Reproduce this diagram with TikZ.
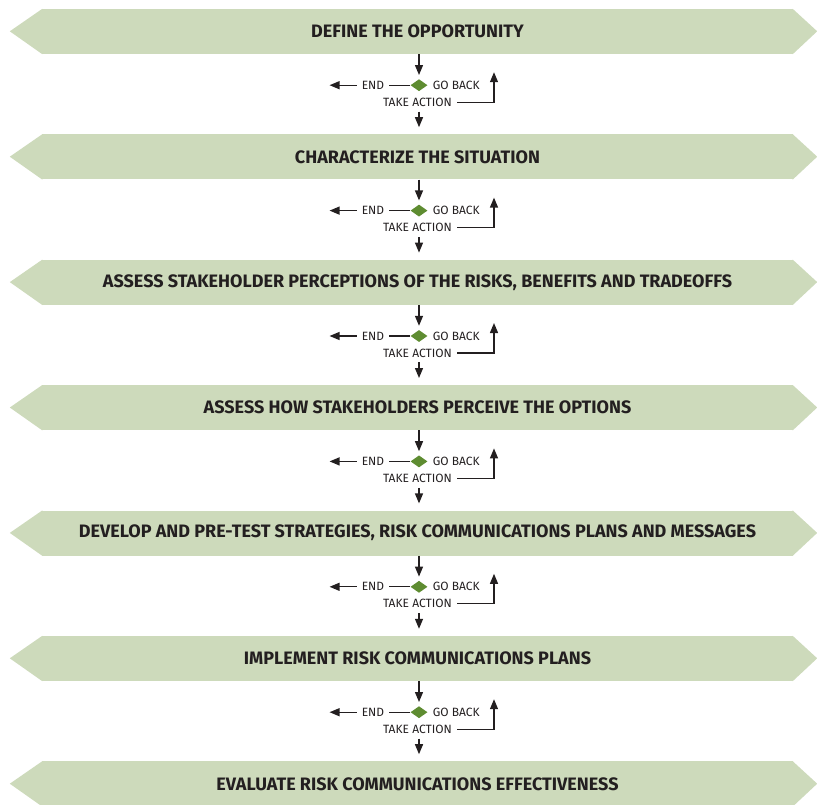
\documentclass[tikz,border=0pt]{standalone}
\usepackage{fontspec}
\usetikzlibrary{arrows.meta,positioning,shapes.geometric}
\newfontfamily\stagefont{Fira Sans}
\definecolor{bannergreen}{RGB}{205,218,187}
\definecolor{choicegreen}{RGB}{94,140,49}
\definecolor{inkgrey}{RGB}{35,31,32}
\tikzset{
  banner/.style={fill=bannergreen, minimum width=751pt, minimum height=45pt, inner sep=0pt,
    text=inkgrey, font=\stagefont\bfseries\fontsize{18}{21}\selectfont},
  choice/.style={diamond, fill=choicegreen, minimum width=17pt, minimum height=12pt, inner sep=0pt},
  word/.style={inner xsep=5pt, inner ysep=1pt, text=inkgrey, font=\stagefont\fontsize{12}{14}\selectfont},
  flow/.style={draw=inkgrey, line width=1.3pt, -{Triangle[length=10pt,width=8pt]}},
  link/.style={draw=inkgrey, line width=1.3pt}
}
\begin{document}
\begin{tikzpicture}[x=1pt,y=-1pt]
	\useasboundingbox (0,0) rectangle (817,804);
	% the seven stages
	\foreach \txt [count=\k] in {{DEFINE THE OPPORTUNITY},{CHARACTERIZE THE SITUATION},
	  {ASSESS STAKEHOLDER PERCEPTIONS OF THE RISKS, BENEFITS AND TRADEOFFS},
	  {ASSESS HOW STAKEHOLDERS PERCEIVE THE OPTIONS},
	  {DEVELOP AND PRE-TEST STRATEGIES, RISK COMMUNICATIONS PLANS AND MESSAGES},
	  {IMPLEMENT RISK COMMUNICATIONS PLANS},
	  {EVALUATE RISK COMMUNICATIONS EFFECTIVENESS}} {
	  \node[banner] (b\k) at (417.5,{31.5+125.4*(\k-1)}) {\txt};
	  \fill[bannergreen] ([xshift=0.5pt]b\k.north west) -- ++(-32.5,22.5) -- ([xshift=0.5pt]b\k.south west) -- cycle;
	  \fill[bannergreen] ([xshift=-0.5pt]b\k.north east) -- ++(24.5,22.5) -- ([xshift=-0.5pt]b\k.south east) -- cycle;
	}
	% decision between two stages
	\foreach \k in {1,...,6} {
	  \pgfmathtruncatemacro\n{\k+1}
	  \node[choice] (dec\k) at ([xshift=1.5pt,yshift=-31pt]b\k.south) {};
	  \node[word, left=21pt of dec\k] (end\k) {END};
	  \node[word, anchor=west] (back\k) at (dec\k.east) {GO BACK};
	  \node[word] (act\k) at ([xshift=-1.5pt,yshift=-17pt]dec\k.center) {TAKE ACTION};
	  \coordinate[left=27pt of end\k.west] (out\k);
	  \coordinate (up\k) at ([xshift=75pt,yshift=13pt]dec\k.center);
	  \draw[flow, shorten >=4pt] (b\k.south -| dec\k) -- (dec\k.north);
	  \draw[link] (end\k.east) -- (dec\k.west);
	  \draw[flow] (end\k.west) -- (out\k);
	  \draw[flow] (act\k.east) -| (up\k);
	  \draw[flow, shorten <=4pt, shorten >=7pt] (act\k.south -| dec\k) -- (b\n.north -| dec\k);
	}
\end{tikzpicture}
\end{document}
